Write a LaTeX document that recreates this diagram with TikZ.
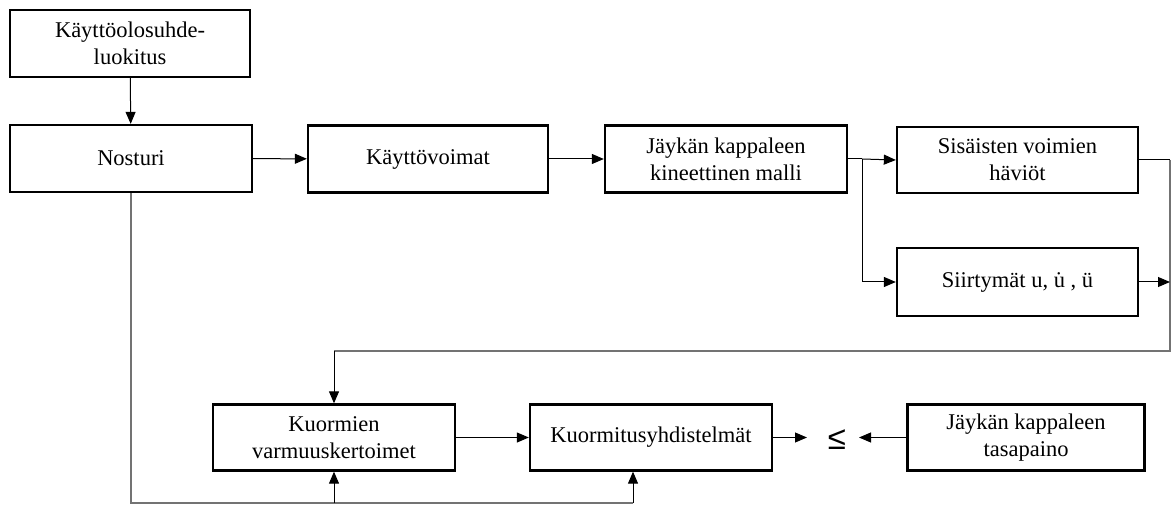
\documentclass[tikz,border=0pt]{standalone}
\usepackage{fontspec}
\setmainfont{Liberation Serif}
\newfontfamily\symfont{Liberation Sans}
\usetikzlibrary{arrows.meta}
\begin{document}
\begin{tikzpicture}[x=1pt,y=-1pt,
  box/.style={draw=black, line width=2.3pt, align=center, inner sep=0pt,
    font=\fontsize{22.5}{27}\selectfont},
  conn/.style={line width=1pt, draw=black},
  arr/.style={conn, -{Triangle[length=12pt,width=10pt]}},
  gconn/.style={line width=1.1pt, draw=black!55}]
\useasboundingbox (0,0) rectangle (1171,505);

\node[box, minimum width=240pt, minimum height=67pt] (luok) at (130,43.5) {Käyttöolosuhde-\\luokitus};
\node[box, minimum width=242pt, minimum height=67pt] (nost) at (131,158.5) {Nosturi};
\node[box, minimum width=240pt, minimum height=67pt] (kv) at (428,159) {Käyttövoimat};
\node[box, minimum width=242pt, minimum height=67pt] (jk) at (726,159) {Jäykän kappaleen\\kineettinen malli};
\node[box, minimum width=241pt, minimum height=66pt] (sis) at (1017.5,160) {Sisäisten voimien\\häviöt};
\node[box, minimum width=241pt, minimum height=68pt] (sii) at (1017.5,282) {Siirtymät u, u̇ , ü};
\node[box, minimum width=242pt, minimum height=66pt] (kuo) at (334,437.5) {Kuormien\\varmuuskertoimet};
\node[box, minimum width=242pt, minimum height=66pt] (kyh) at (651,437.5) {Kuormitusyhdistelmät};
\node[font=\symfont\fontsize{33}{36}\selectfont, inner sep=0pt] (le) at (837,440) {≤};
\node[box, minimum width=237pt, minimum height=66pt] (tas) at (1026,437.5) {Jäykän kappaleen\\tasapaino};

\coordinate (split) at (862,159);
\coordinate (rtop) at (1170,160);
\coordinate (rbot) at (1170,351);
\coordinate (ltop) at (334,351);
\coordinate (bl) at (131,503);
\coordinate (b1) at (334,503);
\coordinate (b2) at (633,503);
\coordinate (lel) at (807,437.5);
\coordinate (ler) at (859,437.5);

\draw[arr] (luok) -- (nost);
\draw[arr] (nost) -- (kv);
\draw[arr] (kv) -- (jk);
\draw[conn] (jk.east) -- (split);
\draw[arr] (split) -- (sis.west);
\draw[arr] (split) |- (sii.west);
\draw[conn] (sis.east) -- (rtop);
\draw[gconn] (rtop) -- (rbot) -- (ltop);
\draw[arr] (sii.east) -- (sii.east -| rtop);
\draw[arr] (ltop) -- (kuo.north);
\draw[gconn] (nost.south) -- (bl) -- (b2);
\draw[arr] (b1) -- (kuo.south);
\draw[arr] (b2) -- (b2 |- kyh.south);
\draw[arr] (kuo) -- (kyh);
\draw[arr] (kyh.east) -- (lel);
\draw[arr] (tas.west) -- (ler);
\end{tikzpicture}
\end{document}
